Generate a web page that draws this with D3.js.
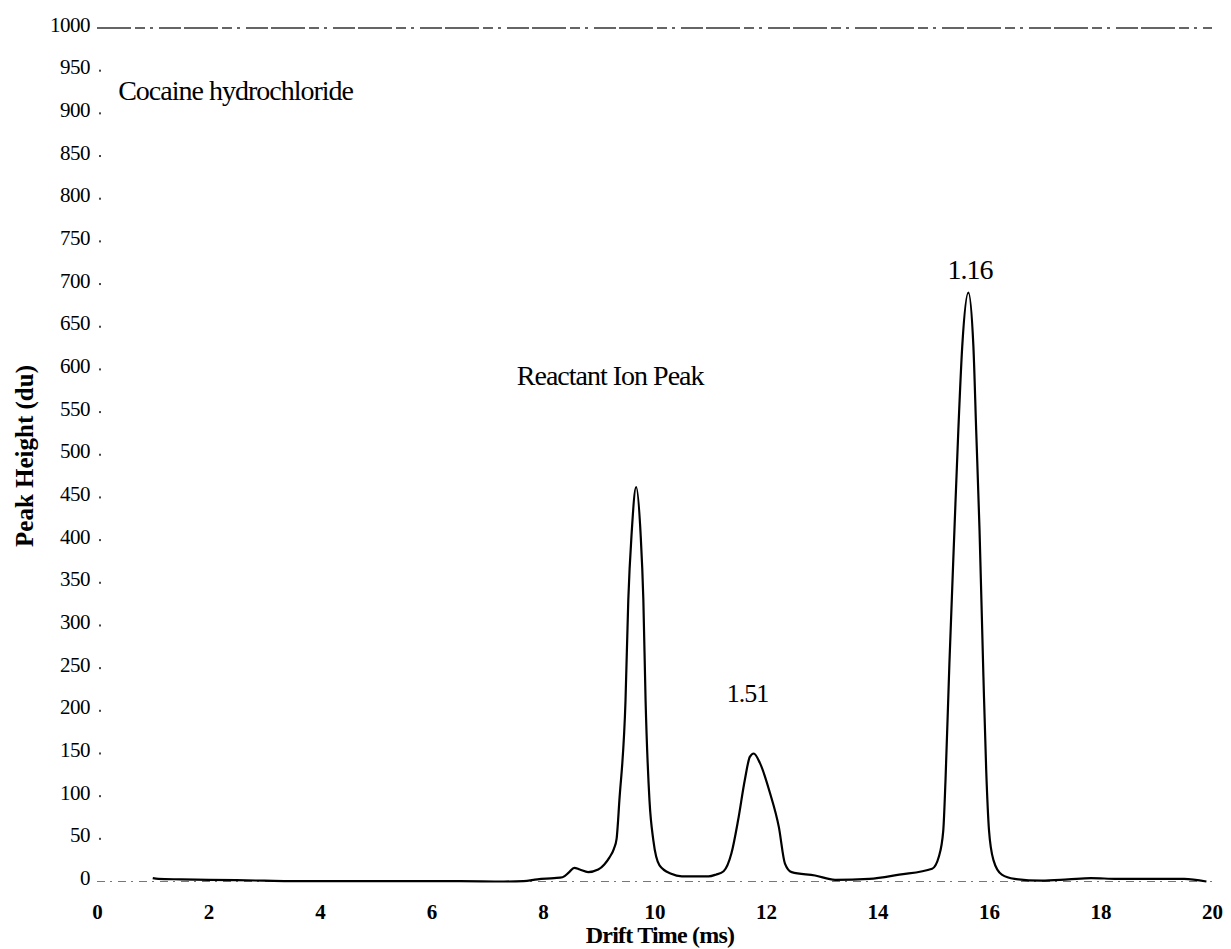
<!DOCTYPE html>
<html lang="en">
<head>
    <meta charset="UTF-8">
    <title>Cocaine hydrochloride - Drift Time</title>
    <script src="https://cdnjs.cloudflare.com/ajax/libs/d3/7.8.5/d3.min.js"></script>
    <style>
        body { margin: 0; background: #fff; }
        svg { display: block; font-family: "Liberation Serif", "DejaVu Serif", serif; }
    </style>
</head>
<body>
    <div id="chart"></div>
    <script>
        // ion mobility spectrum
        const driftTime = [1.0, 1.1, 1.5, 2.0, 3.0, 3.5, 4.5, 5.5, 6.5, 7.3, 7.65, 7.9, 8.2, 8.35, 8.47, 8.56, 8.66, 8.81,
            8.99, 9.1, 9.19, 9.27, 9.32, 9.37, 9.48, 9.53, 9.59, 9.67, 9.75, 9.8, 9.84, 9.91, 9.98, 10.09, 10.3, 10.49,
            10.97, 11.1, 11.24, 11.38, 11.5, 11.62, 11.71, 11.78, 11.89, 12.07, 12.23, 12.34, 12.46, 12.88, 13.24, 13.85,
            14.39, 14.98, 15.1, 15.18, 15.22, 15.29, 15.38, 15.45, 15.52, 15.63, 15.72, 15.77, 15.83, 15.9, 15.95, 16.0,
            16.08, 16.23, 16.46, 16.94, 17.42, 17.83, 18.3, 19.5, 19.9];
        const peakHeight = [4, 3, 2.5, 2, 1, 0.5, 0.5, 0.5, 0.5, 0, 0.5, 2.5, 4, 5, 11, 16, 14, 11,
            14, 20, 28, 38, 50, 95, 212, 330, 408, 462, 408, 330, 212, 95, 48, 19, 9, 6,
            6, 8, 12, 33, 72, 119, 146, 150, 139, 104, 64, 21, 11, 7, 2, 3,
            8, 15, 29, 60, 119, 256, 412, 529, 627, 690, 627, 529, 412, 240, 130, 60,
            25, 8, 3, 1, 2.5, 4, 3, 3, 0];

        const yTicks = d3.range(0, 1001, 50);
        const xTicks = d3.range(0, 21, 2);

        const notes = [
            { text: "Cocaine hydrochloride", x: 0.38, y: 916, size: 28, anchor: "start" },
            { text: "Reactant Ion Peak", x: 7.53, y: 582, size: 28, anchor: "start" },
            { text: "1.51", x: 11.67, y: 210, size: 26, anchor: "middle" },
            { text: "1.16", x: 15.66, y: 706, size: 28, anchor: "middle" }
        ];

        const width = 1231, height = 949;

        const x = d3.scaleLinear().domain([0, 20]).range([97, 1212]);
        const y = d3.scaleLinear().domain([0, 1000]).range([881.5, 28]);

        const svg = d3.select("#chart").append("svg")
            .attr("width", width)
            .attr("height", height);

        // dashed frame lines at 0 and 1000
        svg.append("line")
            .attr("x1", x(0)).attr("x2", x(20))
            .attr("y1", y(1000)).attr("y2", y(1000))
            .attr("stroke", "#333")
            .attr("stroke-width", 1.4)
            .attr("stroke-dasharray", "34,4,10,5,3,6,22,3");
        svg.append("line")
            .attr("x1", x(0)).attr("x2", x(20))
            .attr("y1", y(0)).attr("y2", y(0))
            .attr("stroke", "#777")
            .attr("stroke-width", 1)
            .attr("stroke-dasharray", "8,5,2,6");

        // y axis: labels with a small dot as tick
        const yAxis = svg.append("g")
            .attr("transform", `translate(${x(0)},0)`)
            .call(d3.axisLeft(y).tickValues(yTicks).tickFormat(d3.format("d")).tickSize(0).tickPadding(7));
        yAxis.select(".domain").remove();
        yAxis.selectAll("text")
            .attr("font-family", "Liberation Serif, serif")
            .attr("font-size", 21)
            .attr("letter-spacing", "-0.5")
            .attr("fill", "#000")
            .attr("dy", "0.15em");
        svg.append("g")
            .selectAll("rect")
            .data(yTicks.filter(d => d !== 0 && d !== 1000))
            .enter()
            .append("rect")
            .attr("x", x(0) + 2)
            .attr("y", d => y(d) - 1)
            .attr("width", 2)
            .attr("height", 2)
            .attr("fill", "#444");

        // x axis: bold labels, no line
        const xAxis = svg.append("g")
            .attr("transform", `translate(0,${y(0)})`)
            .call(d3.axisBottom(x).tickValues(xTicks).tickSize(0).tickPadding(37));
        xAxis.select(".domain").remove();
        xAxis.selectAll("text")
            .attr("font-family", "Liberation Serif, serif")
            .attr("font-size", 21)
            .attr("font-weight", "bold")
            .attr("fill", "#000")
            .attr("dy", "0");

        svg.append("text")
            .attr("x", 660)
            .attr("y", 943)
            .attr("text-anchor", "middle")
            .attr("font-size", 24)
            .attr("font-weight", "bold")
            .attr("letter-spacing", "-0.8")
            .text("Drift Time (ms)");

        svg.append("text")
            .attr("transform", "translate(33,456) rotate(-90)")
            .attr("text-anchor", "middle")
            .attr("font-size", 25)
            .attr("font-weight", "bold")
            .text("Peak Height (du)");

        // spectrum trace
        const points = driftTime.map((t, i) => [t, peakHeight[i]]);
        svg.append("path")
            .datum(points)
            .attr("fill", "none")
            .attr("stroke", "#000")
            .attr("stroke-width", 2.2)
            .attr("stroke-linejoin", "round")
            .attr("d", d3.line().x(d => x(d[0])).y(d => y(d[1])).curve(d3.curveMonotoneX));

        svg.append("g")
            .selectAll("text")
            .data(notes)
            .enter()
            .append("text")
            .attr("x", d => x(d.x))
            .attr("y", d => y(d.y))
            .attr("font-size", d => d.size)
            .attr("text-anchor", d => d.anchor)
            .attr("letter-spacing", "-1")
            .text(d => d.text);
    </script>
</body>
</html>
